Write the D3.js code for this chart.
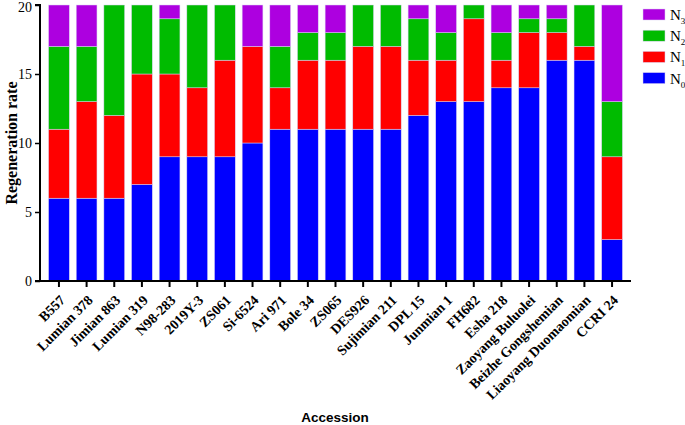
<!DOCTYPE html>
<html>
<head>
<meta charset="utf-8">
<script src="https://cdn.jsdelivr.net/npm/d3@7"></script>
<style>
  body { margin: 0; background: #fff; }
  text { fill: #000; }
</style>
</head>
<body>
<svg id="chart" width="685" height="425"></svg>
<script>
// categories
const accessions = ["B557", "Lumian 378", "Jimian 863", "Lumian 319", "N98-283", "2019Y-3", "ZS061",
  "Si-6524", "Ari 971", "Bole 34", "ZS065", "DES926", "Sujimian 211", "DPL 15", "Junmian 1",
  "FH682", "Esha 218", "Zaoyang Buluolei", "Beizhe Gongshemian", "Liaoyang Duomaomian", "CCRI 24"];

// series values (stack order bottom -> top)
const n0 = [6, 6, 6, 7, 9, 9, 9, 10, 11, 11, 11, 11, 11, 12, 13, 13, 14, 14, 16, 16, 3];
const n1 = [5, 7, 6, 8, 6, 5, 7, 7, 3, 5, 5, 6, 6, 4, 3, 6, 2, 4, 2, 1, 6];
const n2 = [6, 4, 8, 5, 4, 6, 4, 0, 3, 2, 2, 3, 3, 3, 2, 1, 2, 1, 1, 3, 4];
const n3 = [3, 3, 0, 0, 1, 0, 0, 3, 3, 2, 2, 0, 0, 1, 2, 0, 2, 1, 1, 0, 7];

const seriesKeys = ["N0", "N1", "N2", "N3"];
const seriesSubs = ["0", "1", "2", "3"];
const colors = ["#0000ff", "#ff0000", "#00bb00", "#ad00e0"];
const yTicks = [0, 5, 10, 15, 20];

const rows = accessions.map((a, i) => ({ name: a, N0: n0[i], N1: n1[i], N2: n2[i], N3: n3[i] }));
const stacked = d3.stack().keys(seriesKeys)(rows);

const svg = d3.select("#chart");
const mLeft = 40, mRight = 631, mTop = 5, mBottom = 281;
const serif = "Liberation Serif, Times New Roman, serif";

const x = d3.scaleBand().domain(accessions).range([mLeft, mRight]).paddingInner(0.25).paddingOuter(0.31);
const y = d3.scaleLinear().domain([0, 20]).range([mBottom, mTop]);
const color = d3.scaleOrdinal().domain(seriesKeys).range(colors);

// bars
svg.append("g")
  .selectAll("g")
  .data(stacked)
  .enter()
  .append("g")
  .attr("fill", d => color(d.key))
  .selectAll("rect")
  .data(d => d)
  .enter()
  .append("rect")
  .attr("x", d => x(d.data.name))
  .attr("y", d => y(d[1]))
  .attr("width", x.bandwidth())
  .attr("height", d => y(d[0]) - y(d[1]))
  .attr("stroke", "#d9d2f2")
  .attr("stroke-width", 0.5);

// y axis
const axisY = svg.append("g")
  .attr("transform", `translate(${mLeft},0)`)
  .call(d3.axisLeft(y).tickValues(yTicks).tickSize(5).tickPadding(3));
axisY.select(".domain").attr("stroke-width", 2).attr("d", `M-5,${y(20)}H0V${mBottom}`);
axisY.selectAll(".tick line").attr("stroke-width", 1.5);
axisY.selectAll(".tick text")
  .attr("font-family", serif)
  .attr("font-size", 14)
  .attr("dy", d => d === 20 ? "0.45em" : "0.32em");

// x axis
const axisX = svg.append("g")
  .attr("transform", `translate(0,${mBottom})`)
  .call(d3.axisBottom(x).tickSize(6).tickSizeOuter(0));
axisX.select(".domain").attr("stroke-width", 2).attr("d", `M${mLeft - 5},0H${mRight}`);
axisX.selectAll(".tick line").attr("stroke-width", 2);
axisX.selectAll(".tick text")
  .attr("font-family", serif)
  .attr("font-weight", "bold")
  .attr("font-size", 14)
  .attr("text-anchor", "end")
  .attr("y", 0)
  .attr("dy", 0)
  .attr("transform", "translate(7,20) rotate(-45)");

// axis titles
svg.append("text")
  .attr("transform", `translate(17,${(mTop + mBottom) / 2}) rotate(-90)`)
  .attr("text-anchor", "middle")
  .attr("font-family", serif)
  .attr("font-weight", "bold")
  .attr("font-size", 16)
  .text("Regeneration rate");

svg.append("text")
  .attr("x", 335)
  .attr("y", 422)
  .attr("text-anchor", "middle")
  .attr("font-family", "Liberation Sans, Arial, sans-serif")
  .attr("font-weight", "bold")
  .attr("font-size", 13.5)
  .text("Accession");

// legend (top item is N3)
const legend = svg.append("g").attr("transform", "translate(643,9)");
const legendOrder = [3, 2, 1, 0];
const item = legend.selectAll("g")
  .data(legendOrder)
  .enter()
  .append("g")
  .attr("transform", (d, i) => `translate(0,${i * 21.2})`);
item.append("rect")
  .attr("width", 22)
  .attr("height", 11)
  .attr("fill", d => colors[d])
  .attr("stroke", "#d9d2f2")
  .attr("stroke-width", 0.5);
const lt = item.append("text")
  .attr("x", 27)
  .attr("y", 11)
  .attr("font-family", serif)
  .attr("font-size", 15);
lt.append("tspan").text("N");
lt.append("tspan").attr("font-size", 9).attr("dy", 4).text(d => seriesSubs[d]);
</script>
</body>
</html>
